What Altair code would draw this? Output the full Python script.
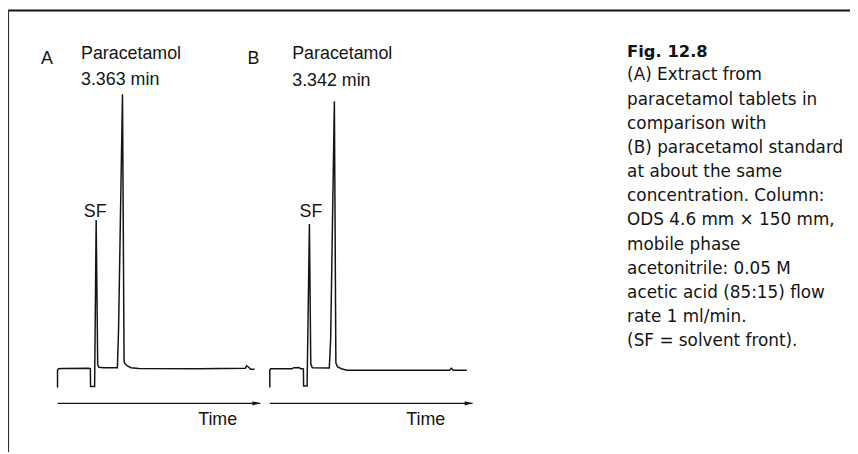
import altair as alt
import pandas as pd

# ---------------- data ----------------
# Chromatogram A: extract from paracetamol tablets (time in min, detector signal in arbitrary units)
A_time = [0.00, 0.00, 0.05, 0.25, 1.60, 1.70, 1.71, 1.92, 2.00, 2.08, 2.14, 2.40, 3.10, 3.16, 3.363,
          3.445, 3.50, 3.60, 3.80, 4.20, 7.30, 9.72, 9.79, 9.90, 10.00, 10.20]
A_signal = [-19, -1.5, 0, 0.3, 0.5, 0, -18, -18, 150, 4, 1.5, 1, 1, 40, 277,
            7, 5, 3, 1, 0.3, 0, 0.5, 3, 1.5, -0.5, -0.5]

# Chromatogram B: paracetamol standard
B_time = [0.00, 0.00, 0.05, 0.30, 1.15, 1.25, 1.50, 1.60, 1.72, 1.74, 1.75, 1.93, 2.05, 2.12, 2.20,
          3.08, 3.15, 3.342, 3.42, 3.50, 3.70, 4.00, 9.30, 9.40, 9.50, 10.20]
B_signal = [-19, -1.3, 0, 0, 0, 1.0, 1.2, 0, 0, -1, -17.5, -17.5, 146, 5, 1.0,
            0.7, 30, 270, 6, 2, 0, -1.5, -1.5, 0.5, -1.5, -1.5]

# time arrows (start, end in min) and the level at which they are drawn
A_arrow = [0.0, 10.5]
B_arrow = [0.0, 10.5]
ARROW_LEVEL = -35

# annotations (text, time position, signal position)
A_labels = ["A", "Paracetamol", "3.363 min", "SF", "Time"]
A_label_t = [-0.86, 1.215, 1.215, 1.36, 7.28]
A_label_s = [308, 313, 286.5, 153, -57]

B_labels = ["B", "Paracetamol", "3.342 min", "SF", "Time"]
B_label_t = [-1.16, 1.16, 1.16, 1.54, 7.06]
B_label_s = [308, 313, 285, 153, -57]

CAPTION_TITLE = "Fig. 12.8"
CAPTION_LINES = [
    "(A) Extract from",
    "paracetamol tablets in",
    "comparison with",
    "(B) paracetamol standard",
    "at about the same",
    "concentration. Column:",
    "ODS 4.6 mm \u00d7 150 mm,",
    "mobile phase",
    "acetonitrile: 0.05 M",
    "acetic acid (85:15) flow",
    "rate 1 ml/min.",
    "(SF = solvent front).",
]

# ---------------- layout / style ----------------
W, H = 850, 446
PX_PER_MIN = 19.5
ORIGIN_A = 50.0     # pixel position of t = 0 for trace A
ORIGIN_B = 264.3    # pixel position of t = 0 for trace B
BASE_PX = 362       # pixel row of zero signal
INK = "#141414"
LABEL_FONT = "Liberation Sans"
CAPTION_FONT = "DejaVu Sans"

y_scale = alt.Scale(domain=[-(H - BASE_PX), BASE_PX], nice=False, zero=False)


def x_scale(origin):
    return alt.Scale(domain=[-origin / PX_PER_MIN, (W - origin) / PX_PER_MIN], nice=False, zero=False)


def panel(times, signals, arrow, labels, label_t, label_s, origin):
    xs = x_scale(origin)
    trace = pd.DataFrame({"t": times, "s": signals, "i": list(range(len(times)))})
    arr = pd.DataFrame({"t0": [arrow[0]], "t1": [arrow[1]], "s": [ARROW_LEVEL]})
    lab = pd.DataFrame({"label": labels, "t": label_t, "s": label_s})

    line = alt.Chart(trace).mark_line(color=INK, strokeWidth=1.5, strokeJoin="miter").encode(
        x=alt.X("t:Q", scale=xs, axis=None),
        y=alt.Y("s:Q", scale=y_scale, axis=None),
        order=alt.Order("i:Q"),
    )
    rule = alt.Chart(arr).mark_rule(color=INK, strokeWidth=1.4).encode(
        x=alt.X("t0:Q", scale=xs, axis=None),
        x2="t1:Q",
        y=alt.Y("s:Q", scale=y_scale, axis=None),
    )
    head = alt.Chart(arr).mark_point(
        shape="M0,0L-2,-0.55L-2,0.55Z", filled=True, size=64, color=INK, opacity=1
    ).encode(
        x=alt.X("t1:Q", scale=xs, axis=None),
        y=alt.Y("s:Q", scale=y_scale, axis=None),
    )
    text = alt.Chart(lab).mark_text(
        align="left", baseline="alphabetic", font=LABEL_FONT, fontSize=18, color=INK
    ).encode(
        x=alt.X("t:Q", scale=xs, axis=None),
        y=alt.Y("s:Q", scale=y_scale, axis=None),
        text="label:N",
    )
    return alt.layer(line, rule, head, text)


panel_a = panel(A_time, A_signal, A_arrow, A_labels, A_label_t, A_label_s, ORIGIN_A)
panel_b = panel(B_time, B_signal, B_arrow, B_labels, B_label_t, B_label_s, ORIGIN_B)

one = pd.DataFrame({"k": [0]})
cap_title = alt.Chart(one).mark_text(
    text=CAPTION_TITLE, align="left", baseline="alphabetic", font=CAPTION_FONT,
    fontSize=16.5, fontWeight="bold", color=INK,
).encode(x=alt.value(625), y=alt.value(47))
cap_body = alt.Chart(one).mark_text(
    text=CAPTION_LINES, align="left", baseline="alphabetic", font=CAPTION_FONT,
    fontSize=17, lineHeight=24.4, color=INK,
).encode(x=alt.value(625), y=alt.value(71))

# figure frame: only the top and left edges are visible in the scan
frame_top = alt.Chart(one).mark_rule(color=INK, strokeWidth=2).encode(
    x=alt.value(0), x2=alt.value(W), y=alt.value(0.5)
)
frame_left = alt.Chart(one).mark_rule(color="#333333", strokeWidth=1.2).encode(
    x=alt.value(0.5), y=alt.value(0), y2=alt.value(H)
)

chart = alt.layer(panel_a, panel_b, cap_title, cap_body, frame_top, frame_left).resolve_scale(
    x="independent"
).properties(
    width=W, height=H, padding=0, autosize=alt.AutoSizeParams(type="none"),
    background="white",
).configure_view(stroke=None)

chart.save("out.html", embed_options={"renderer": "svg", "actions": False})
